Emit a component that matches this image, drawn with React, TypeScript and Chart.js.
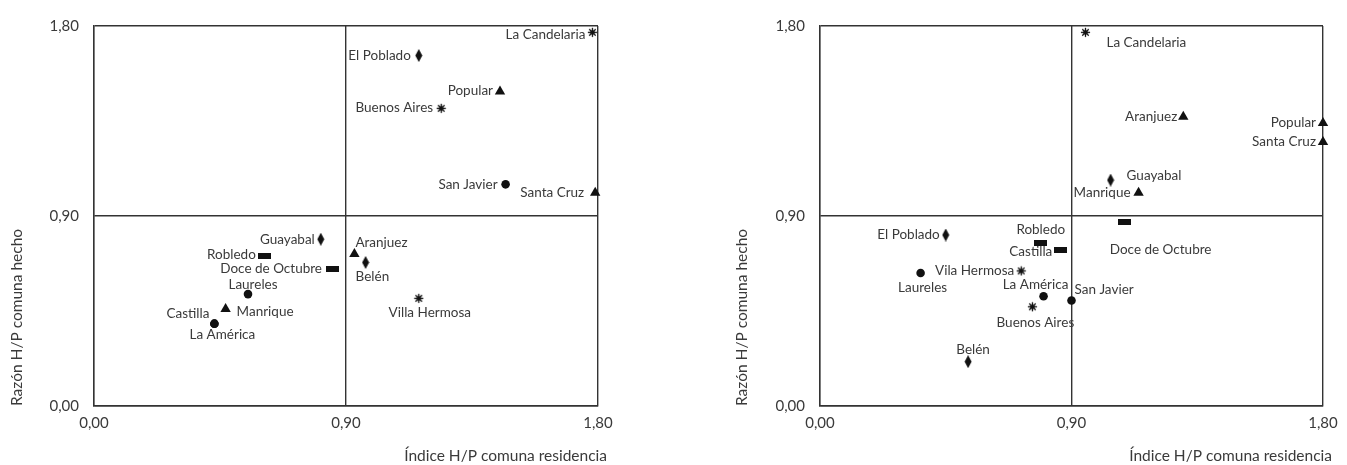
import React, { useEffect, useRef } from 'react';
import { Chart, registerables } from 'chart.js';

Chart.register(...registerables);

// ---------- shared axis data ----------
const axisTickValues = [0, 0.9, 1.8];
const axisTickLabels = ['0,00', '0,90', '1,80'];
const xAxisTitle = 'Índice H/P comuna residencia';
const yAxisTitle = 'Razón H/P comuna hecho';

// ---------- left chart data ----------
const leftNames = [
  'La Candelaria', 'El Poblado', 'Popular', 'Buenos Aires', 'San Javier', 'Santa Cruz',
  'Guayabal', 'Robledo', 'Doce de Octubre', 'Laureles', 'Manrique', 'Castilla',
  'La América', 'Aranjuez', 'Belén', 'Villa Hermosa',
];
const leftX = [1.78, 1.16, 1.45, 1.24, 1.47, 1.79, 0.81, 0.61, 0.85, 0.55, 0.47, 0.43, 0.43, 0.93, 0.97, 1.16];
const leftY = [1.77, 1.66, 1.49, 1.41, 1.05, 1.01, 0.79, 0.71, 0.65, 0.53, 0.46, 0.39, 0.39, 0.72, 0.68, 0.51];
const leftMarkers = [
  'star', 'diamond', 'triangle', 'star', 'circle', 'triangle',
  'diamond', 'rect', 'rect', 'circle', 'triangle', 'circle',
  'circle', 'triangle', 'diamond', 'star',
];
// label placement: [textAlign, dx, dy] relative to the marker
const leftLabelPlacement: [CanvasTextAlign, number, number][] = [
  ['right', -7, 2], ['right', -8, 0], ['right', -7, -1], ['right', -8, -1], ['right', -8, 0], ['right', -11, 0],
  ['right', -6, 0], ['right', -9, -1], ['right', -10, 0], ['center', 5, -9], ['left', 11, 3], ['right', -5, -10],
  ['center', 8, 11], ['left', 1, -11], ['left', -10, 14], ['center', 11, 14],
];

// ---------- right chart data ----------
const rightNames = [
  'La Candelaria', 'Aranjuez', 'Popular', 'Santa Cruz', 'Guayabal', 'Manrique',
  'Doce de Octubre', 'El Poblado', 'Robledo', 'Castilla', 'Laureles', 'Vila Hermosa',
  'La América', 'San Javier', 'Buenos Aires', 'Belén',
];
const rightX = [0.95, 1.30, 1.80, 1.80, 1.04, 1.14, 1.09, 0.45, 0.79, 0.86, 0.36, 0.72, 0.80, 0.90, 0.76, 0.53];
const rightY = [1.77, 1.37, 1.34, 1.25, 1.07, 1.01, 0.87, 0.81, 0.77, 0.74, 0.63, 0.64, 0.52, 0.50, 0.47, 0.21];
const rightMarkers = [
  'star', 'triangle', 'triangle', 'triangle', 'diamond', 'triangle',
  'rect', 'diamond', 'rect', 'rect', 'circle', 'star',
  'circle', 'circle', 'star', 'diamond',
];
const rightLabelPlacement: [CanvasTextAlign, number, number][] = [
  ['left', 21, 10], ['right', -6, 0], ['right', -7, 0], ['right', -7, 0], ['left', 16, -4], ['right', -8, 0],
  ['center', 36, 27], ['right', -6, 0], ['center', 0, -14], ['right', -8, 2], ['center', 2, 15], ['right', -7, 0],
  ['center', -8, -12], ['left', 3, -11], ['center', 3, 16], ['center', 5, -12],
];

// ---------- styling ----------
const FONT = 'Lato, "Open Sans", sans-serif';
const TEXT = '#3a3a3a';
const LINE = '#333333';
const MARK = '#111111';

function makeImg(w: number, h: number, draw: (g: CanvasRenderingContext2D) => void) {
  const c = document.createElement('canvas');
  c.width = w;
  c.height = h;
  const g = c.getContext('2d')!;
  draw(g);
  return c;
}

let markerCache: Record<string, any> | null = null;
function markerImages() {
  if (markerCache) return markerCache;
  const diamond = makeImg(8, 13, (g) => {
    g.fillStyle = MARK;
    g.beginPath();
    g.moveTo(4, 0);
    g.lineTo(7.5, 6.5);
    g.lineTo(4, 13);
    g.lineTo(0.5, 6.5);
    g.closePath();
    g.fill();
  });
  const rect = makeImg(13, 6, (g) => {
    g.fillStyle = MARK;
    g.fillRect(0, 0, 13, 6);
  });
  const star = makeImg(11, 11, (g) => {
    g.strokeStyle = MARK;
    g.fillStyle = MARK;
    g.lineWidth = 1.3;
    for (let i = 0; i < 8; i++) {
      const a = (i * Math.PI) / 4;
      g.beginPath();
      g.moveTo(5.5, 5.5);
      g.lineTo(5.5 + Math.cos(a) * 4.6, 5.5 + Math.sin(a) * 4.6);
      g.stroke();
    }
    g.beginPath();
    g.arc(5.5, 5.5, 2.3, 0, Math.PI * 2);
    g.fill();
  });
  markerCache = { diamond, rect, star };
  return markerCache;
}

function styleFor(m: string) {
  const imgs = markerImages();
  if (m === 'circle') return 'circle';
  if (m === 'triangle') return 'triangle';
  return imgs[m];
}
function radiusFor(m: string) {
  if (m === 'circle') return 4.3;
  if (m === 'triangle') return 6;
  return 5;
}

function makeLabelPlugin(names: string[], placement: [CanvasTextAlign, number, number][]) {
  return {
    id: 'pointNameLabels',
    afterDatasetsDraw(chart: any) {
      const meta = chart.getDatasetMeta(0);
      const ctx = chart.ctx as CanvasRenderingContext2D;
      ctx.save();
      ctx.font = `13.5px ${FONT}`;
      ctx.fillStyle = TEXT;
      ctx.textBaseline = 'middle';
      meta.data.forEach((el: any, i: number) => {
        const [align, dx, dy] = placement[i];
        ctx.textAlign = align;
        ctx.fillText(names[i], el.x + dx, el.y + dy);
      });
      // x-axis title, right-aligned just past the plot's right edge
      ctx.font = `15.5px ${FONT}`;
      ctx.textAlign = 'right';
      ctx.fillText(xAxisTitle, chart.chartArea.right + 9, chart.height - 9);
      ctx.restore();
    },
  };
}

type PanelProps = {
  names: string[];
  xs: number[];
  ys: number[];
  markers: string[];
  placement: [CanvasTextAlign, number, number][];
  width: number;
  height: number;
  padLeft: number;
  padRight: number;
  yAxisWidth: number;
};

function ScatterPanel(p: PanelProps) {
  const ref = useRef<HTMLCanvasElement | null>(null);
  useEffect(() => {
    if (!ref.current) return;
    const data = p.xs.map((x, i) => ({ x, y: p.ys[i] }));
    const tickFont = { family: FONT, size: 15 };
    const yTitleFont = { family: FONT, size: 15.5 };
    const setTicks = (s: any) => {
      s.ticks = axisTickValues.map((v) => ({ value: v }));
    };
    const chart = new Chart(ref.current, {
      type: 'scatter',
      data: {
        datasets: [
          {
            data,
            clip: false as any,
            pointStyle: (c: any) => styleFor(p.markers[c.dataIndex]) as any,
            pointRadius: (c: any) => radiusFor(p.markers[c.dataIndex]),
            pointBackgroundColor: MARK,
            pointBorderColor: MARK,
            pointBorderWidth: 0,
          } as any,
        ],
      },
      options: {
        animation: false,
        responsive: false,
        events: [],
        layout: { padding: { left: p.padLeft, right: p.padRight, top: 18, bottom: 0 } },
        plugins: { legend: { display: false }, tooltip: { enabled: false } },
        scales: {
          x: {
            type: 'linear',
            min: 0,
            max: 1.8,
            afterBuildTicks: setTicks,
            afterFit: (s: any) => {
              s.height = 59;
              s.paddingLeft = 0;
              s.paddingRight = 0;
            },
            ticks: {
              autoSkip: false,
              maxRotation: 0,
              padding: 8,
              color: TEXT,
              font: tickFont,
              callback: (_v: any, i: number) => axisTickLabels[i],
            },
            grid: { color: LINE, lineWidth: 1.4, drawTicks: false },
            border: { color: LINE, width: 1.4 },
            title: { display: false },
          },
          y: {
            type: 'linear',
            min: 0,
            max: 1.8,
            afterBuildTicks: setTicks,
            afterFit: (s: any) => {
              s.width = p.yAxisWidth;
              s.paddingTop = 0;
              s.paddingBottom = 0;
            },
            ticks: {
              autoSkip: false,
              padding: 15,
              color: TEXT,
              font: tickFont,
              callback: (_v: any, i: number) => axisTickLabels[i],
            },
            grid: { color: LINE, lineWidth: 1.4, drawTicks: false },
            border: { color: LINE, width: 1.4 },
            title: { display: true, text: yAxisTitle, align: 'start', color: TEXT, font: yTitleFont, padding: 0 },
          },
        },
      } as any,
      plugins: [makeLabelPlugin(p.names, p.placement)],
    });
    return () => chart.destroy();
  }, []);
  return (
    <canvas
      ref={ref}
      width={p.width}
      height={p.height}
      style={{ display: 'block', width: p.width, height: p.height }}
    />
  );
}

export default function App() {
  return (
    <div style={{ display: 'flex', width: 1331, height: 457 }}>
      <ScatterPanel
        names={leftNames}
        xs={leftX}
        ys={leftY}
        markers={leftMarkers}
        placement={leftLabelPlacement}
        width={665}
        height={457}
        padLeft={0}
        padRight={75}
        yAxisWidth={86}
      />
      <ScatterPanel
        names={rightNames}
        xs={rightX}
        ys={rightY}
        markers={rightMarkers}
        placement={rightLabelPlacement}
        width={666}
        height={457}
        padLeft={60}
        padRight={16}
        yAxisWidth={87}
      />
    </div>
  );
}
